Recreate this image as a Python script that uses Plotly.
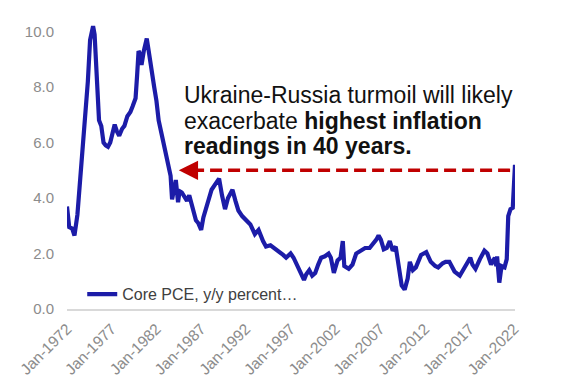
import plotly.graph_objects as go

# ---- data ----
dates = [
    "1972-01", "1972-04", "1972-08", "1972-11", "1973-03", "1973-06", "1973-09",
    "1974-01", "1974-05", "1974-08", "1974-12", "1975-02", "1975-04", "1975-06",
    "1975-08", "1975-11", "1976-02", "1976-05", "1976-08", "1976-11", "1977-02",
    "1977-05", "1977-08", "1977-11", "1978-03", "1978-06", "1978-10", "1979-02",
    "1979-05", "1979-09", "1979-11", "1980-01", "1980-03", "1980-05", "1980-08",
    "1980-12", "1981-02", "1981-04", "1981-07", "1981-10", "1982-01", "1982-04",
    "1982-08", "1982-11", "1983-02", "1983-05", "1983-08", "1983-10", "1983-12",
    "1984-03", "1984-06", "1984-08", "1984-11", "1985-03", "1985-06", "1985-09",
    "1986-02", "1986-06", "1986-09", "1987-01", "1987-04", "1987-07", "1987-10",
    "1988-03", "1988-08", "1989-01", "1989-05", "1989-09", "1990-01", "1990-07",
    "1990-11", "1991-03", "1991-08", "1992-01", "1992-07", "1993-01", "1993-06",
    "1993-12", "1994-04", "1994-10", "1995-03", "1995-09", "1996-03", "1996-07",
    "1997-01", "1997-05", "1997-10", "1998-03", "1998-07", "1998-10", "1999-02",
    "1999-06", "1999-10", "2000-02", "2000-06", "2000-11", "2001-04", "2001-07",
    "2001-11", "2002-04", "2002-08", "2002-11", "2003-01", "2003-07", "2003-12",
    "2004-05", "2004-11", "2005-05", "2005-11", "2006-04", "2006-08", "2006-11",
    "2007-02", "2007-06", "2007-10", "2008-02", "2008-06", "2008-10", "2009-02",
    "2009-06", "2009-10", "2010-02", "2010-05", "2010-09", "2011-01", "2011-08",
    "2012-03", "2012-09", "2013-03", "2013-07", "2014-01", "2014-05", "2014-10",
    "2015-05", "2015-12", "2016-03", "2016-09", "2017-02", "2017-05", "2017-09",
    "2018-03", "2018-09", "2019-01", "2019-06", "2019-11", "2020-01", "2020-02",
    "2020-05", "2020-08", "2020-12", "2021-03", "2021-05", "2021-08", "2021-11",
    "2022-02",
]
core_pce = [
    3.7, 2.95, 2.9, 2.65, 3.4, 4.4, 5.3,
    6.5, 8.2, 9.7, 10.2, 9.9, 8.9, 7.6,
    6.8, 6.6, 6.0, 5.9, 5.85, 6.0, 6.3,
    6.65, 6.4, 6.25, 6.5, 6.6, 6.95, 7.1,
    7.3, 7.6, 8.4, 9.3, 9.2, 8.8, 9.3,
    9.75, 9.4, 9.0, 8.6, 8.0, 7.5, 6.8,
    6.3, 5.9, 5.5, 5.2, 4.8, 3.95, 4.3,
    4.65, 3.85, 4.25, 4.2, 4.0, 3.9, 4.1,
    3.5, 3.2, 3.1, 2.85, 3.3, 3.6, 3.9,
    4.3, 4.5, 4.7, 4.1, 3.6, 4.0, 4.3,
    3.9, 3.55, 3.35, 3.2, 3.05, 2.7, 2.85,
    2.45, 2.25, 2.3, 2.2, 2.1, 1.95, 1.85,
    2.0, 1.85, 1.55, 1.3, 1.05, 1.25, 1.4,
    1.2, 1.3, 1.6, 1.85, 1.9, 2.0, 1.85,
    1.3, 1.75, 1.85, 2.45, 1.55, 1.45, 1.6,
    2.0, 2.1, 2.2, 2.2, 2.35, 2.5, 2.65,
    2.5, 2.15, 2.2, 2.45, 2.1, 2.25, 1.4,
    0.85, 0.7, 1.1, 1.7, 1.4, 1.5, 1.95,
    2.05, 1.7, 1.55, 1.5, 1.65, 1.7, 1.7,
    1.35, 1.2, 1.35, 1.65, 1.85, 1.6, 1.45,
    1.8, 2.1, 2.0, 1.6, 1.85, 1.55, 1.9,
    0.95, 1.55, 1.5, 1.8, 3.35, 3.6, 3.65,
    5.2,
]
series_name = "Core PCE, y/y percent…"
y_ticks = [0, 2, 4, 6, 8, 10]

arrow_level = 5.0
arrow_from = "2021-07-15"
arrow_to = "1984-07-01"

note_lines = [
    "Ukraine-Russia turmoil will likely",
    "exacerbate <b>highest inflation</b>",
    "<b>readings in 40 years.</b>",
]

# ---- figure ----
FONT = "Arial, Liberation Sans, sans-serif"
fig = go.Figure()
fig.add_trace(go.Scatter(
    x=dates, y=core_pce, mode="lines", name=series_name,
    line=dict(color="#1C1CA8", width=4.2),
    showlegend=True,
))

# dashed arrow shaft
fig.add_shape(
    type="line", xref="x", yref="y",
    x0=arrow_from, x1="1985-06-01", y0=arrow_level, y1=arrow_level,
    line=dict(color="#C00000", width=3.5, dash="12px,6px"),
)
# arrow head
fig.add_annotation(
    x=arrow_to, y=arrow_level, xref="x", yref="y",
    ax=16, ay=0, text="", showarrow=True,
    arrowhead=2, arrowsize=1.1, arrowwidth=3.5, arrowcolor="#C00000",
)

line_y = [7.73, 6.79, 5.88]
for txt, yy in zip(note_lines, line_y):
    fig.add_annotation(
        x=0.257, y=yy, xref="paper", yref="y",
        text=txt, showarrow=False, xanchor="left", yanchor="middle",
        font=dict(family=FONT, size=23, color="#111111"),
    )

fig.update_layout(
    width=554, height=379,
    margin=dict(l=59, r=47, t=7, b=78),
    paper_bgcolor="white", plot_bgcolor="white",
    font=dict(family=FONT),
    showlegend=True,
    legend=dict(
        x=0.034, y=0.05, xanchor="left", yanchor="middle",
        bgcolor="rgba(0,0,0,0)", itemwidth=30,
        font=dict(family=FONT, size=16, color="#404040"),
    ),
)
fig.update_xaxes(
    type="date", range=["1972-01-01", "2022-02-01"],
    tick0="1972-01-01", dtick="M60", tickformat="%b-%Y",
    tickangle=-45, showgrid=False, zeroline=False,
    showline=True, linecolor="#D9D9D9", linewidth=1.5,
    ticklabelstandoff=3,
    tickfont=dict(family=FONT, size=15.5, color="#8C8C8C"),
)
fig.update_yaxes(
    range=[0, 10.6], tickvals=y_ticks, tickformat=".1f",
    showgrid=False, zeroline=False, showline=False,
    ticklabelstandoff=12,
    tickfont=dict(family=FONT, size=15, color="#8C8C8C"),
)

fig.write_html("out.html")
